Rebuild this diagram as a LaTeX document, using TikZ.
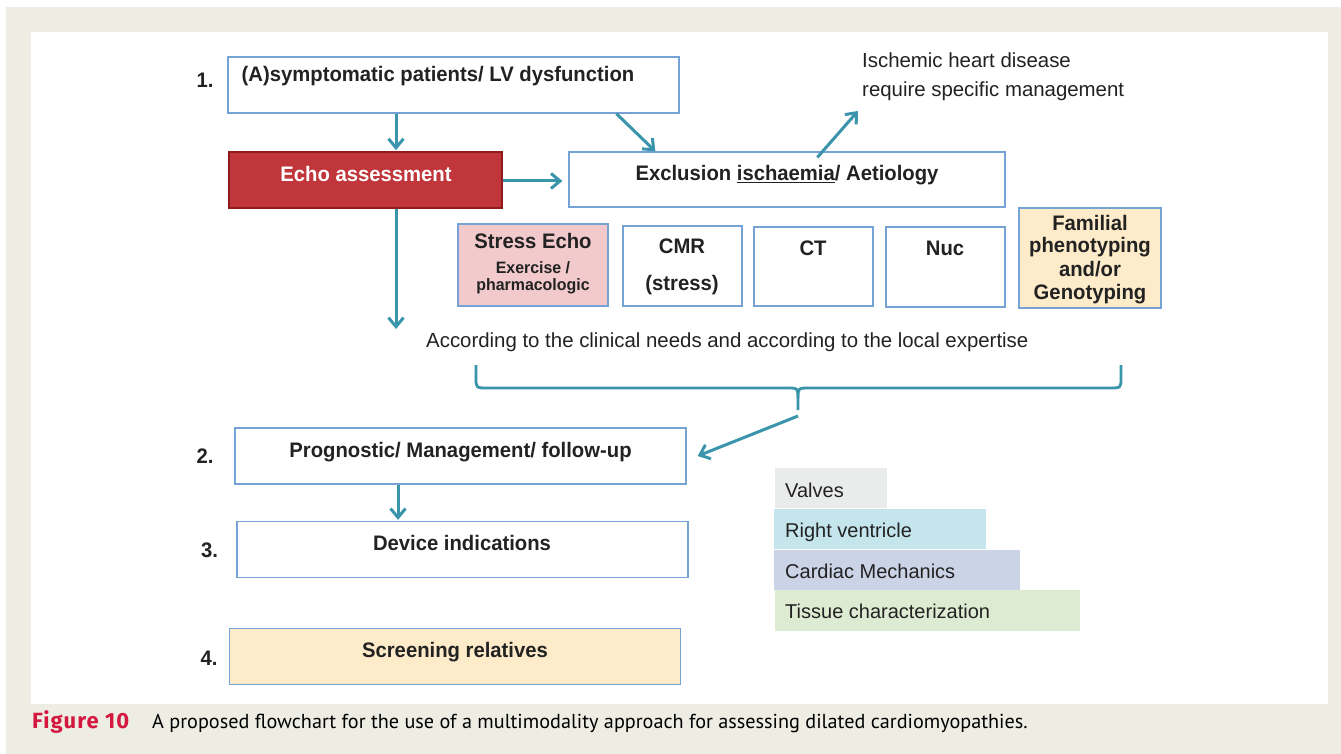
\documentclass[tikz,border=0pt]{standalone}
\usepackage{fontspec}
\setmainfont{Liberation Sans}
\newfontfamily\condfont{Liberation Sans}[FakeStretch=0.965]
\newfontfamily\capfont{PT Sans}
\newfontfamily\capboldfont{Fira Sans}
\usetikzlibrary{arrows.meta,calc}
\definecolor{bgbeige}{HTML}{EEEDE3}
\definecolor{boxblue}{HTML}{76A2D6}
\definecolor{arrteal}{HTML}{3A95AC}
\definecolor{echored}{HTML}{C1363A}
\definecolor{echoborder}{HTML}{8E1B1E}
\definecolor{pinkfill}{HTML}{F2CACB}
\definecolor{creamfill}{HTML}{FEEBC9}
\definecolor{valvesfill}{HTML}{EAECEB}
\definecolor{rvfill}{HTML}{C4E5EC}
\definecolor{mechfill}{HTML}{CBD3E6}
\definecolor{tissuefill}{HTML}{DEEBD3}
\definecolor{capred}{HTML}{D4173F}
\definecolor{txtgray}{HTML}{222222}
\begin{document}
\begin{tikzpicture}[x=1pt,y=-1pt,
  bx/.style={draw=boxblue, line width=1.3pt, fill=white, rectangle, inner sep=0pt},
  lg/.style={rectangle, inner sep=0pt, draw=none},
  arr/.style={draw=arrteal, line width=3pt, -{Straight Barb[length=9pt,width=15pt]}},
  bt/.style={anchor=base, inner sep=0pt, font=\condfont\fontsize{21}{24}\selectfont\bfseries, text=txtgray},
  rt/.style={anchor=base west, inner sep=0pt, font=\fontsize{20.4}{24}\selectfont, text=txtgray},
  nt/.style={anchor=base, inner sep=0pt, font=\condfont\fontsize{21}{24}\selectfont\bfseries, text=txtgray},
]
\useasboundingbox (0,0) rectangle (1341,754);
\fill[white] (0,0) rectangle (1341,754);
\fill[bgbeige] (6,7) rectangle (1341,754);
\fill[white] (31,32) rectangle (1328,704);

% main boxes
\node[bx, minimum width=451pt, minimum height=56pt] (b1) at (453.5,85) {};
\node[rectangle, draw=echoborder, line width=1.8pt, fill=echored, minimum width=273pt, minimum height=56pt, inner sep=0pt] (echo) at (365.5,180) {};
\node[bx, minimum width=436pt, minimum height=55pt] (excl) at (787,179.5) {};
\node[bx, minimum width=451pt, minimum height=56pt] (b2) at (460.5,456) {};
\node[bx, minimum width=451pt, minimum height=56pt] (b3) at (462.5,549.5) {};
\node[bx, fill=creamfill, minimum width=451pt, minimum height=56pt] (b4) at (455,656.5) {};

% modality boxes
\node[bx, fill=pinkfill, minimum width=150pt, minimum height=82pt] (se) at (533,265) {};
\node[bx, minimum width=119pt, minimum height=80pt] (cmr) at (682.5,266) {};
\node[bx, minimum width=119pt, minimum height=79pt] (ct) at (813.5,266.5) {};
\node[bx, minimum width=119pt, minimum height=80pt] (nuc) at (945.5,267) {};
\node[bx, fill=creamfill, minimum width=142pt, minimum height=100pt] (fam) at (1090,258) {};

% texts
\node[nt] (n1) at (205,88) {1.};
\node[nt] (n2) at (205,463) {2.};
\node[nt] (n3) at (209.5,557) {3.};
\node[nt] (n4) at (209,665) {4.};
\node[bt] (t1) at (438,82) {(A)symptomatic patients/ LV dysfunction};
\node[bt, text=white] (techo) at (366,182) {Echo assessment};
\node[bt] (texcl) at (787,181) {Exclusion \underline{ischaemia}/ Aetiology};
\node[bt] (t2) at (460.5,457) {Prognostic/ Management/ follow-up};
\node[bt] (t3) at (462,550) {Device indications};
\node[bt] (t4) at (455,657) {Screening relatives};

\node[rt] (ihd) at (862,68) {Ischemic heart disease};
\node[rt] (ihd2) at (862,97) {require specific management};

\node[bt] (tse) at (533,248) {Stress Echo};
\node[bt, font=\condfont\fontsize{16.5}{19}\selectfont\bfseries] (tse2) at (533,273) {Exercise /};
\node[bt, font=\condfont\fontsize{16.5}{19}\selectfont\bfseries] (tse3) at (533,290) {pharmacologic};
\node[bt] (tcmr) at (682,254) {CMR};
\node[bt] (tcmr2) at (682,290) {(stress)};
\node[bt] (tct) at (813,255) {CT};
\node[bt] (tnuc) at (945,255) {Nuc};
\node[bt] (tf1) at (1090,230) {Familial};
\node[bt] (tf2) at (1090,252.5) {phenotyping};
\node[bt] (tf3) at (1090,276) {and/or};
\node[bt] (tf4) at (1090,299) {Genotyping};

\node[rt] (acc) at (426,347) {According to the clinical needs and according to the local expertise};

% legend
\node[lg, fill=valvesfill, minimum width=112pt, minimum height=40pt] (lv) at (831,488) {};
\node[lg, fill=rvfill, minimum width=212pt, minimum height=40pt] (lrv) at (880,529) {};
\node[lg, fill=mechfill, minimum width=246pt, minimum height=40pt] (lm) at (897,570) {};
\node[lg, fill=tissuefill, minimum width=305pt, minimum height=41pt] (lt) at (927.5,610.5) {};
\node[rt, font=\fontsize{20}{24}\selectfont] at (785,497) {Valves};
\node[rt, font=\fontsize{20}{24}\selectfont] at (785,537) {Right ventricle};
\node[rt, font=\fontsize{20}{24}\selectfont] at (785,578) {Cardiac Mechanics};
\node[rt, font=\fontsize{20}{24}\selectfont] at (785,618) {Tissue characterization};

% connectors
\coordinate (xa) at (396,0);
\coordinate (xb) at (398,0);
\draw[arr] (b1.south -| xa) -- ($(echo.north -| xa)+(0,-1)$);
\draw[arr] ($(b1.south west)+(389,0)$) -- ($(excl.north west)+(87,0)$);
\draw[arr] (echo.east |- 0,181) -- ($(excl.west |- 0,181)+(-6,0)$);
\coordinate (echoend) at (396,329);
\draw[arr] (echo.south -| xa) -- (echoend);
\draw[arr] ($(excl.north west)+(249,6)$) -- ($(ihd.base west)+(-4,43)$);
\coordinate (brl) at (476,365);
\coordinate (brr) at (1121,365);
\coordinate (brtip) at (798,410);
\draw[arrteal, line width=2.8pt, line join=round]
  (brl) -- (476,378) .. controls (476,388) .. (488,388) -- (786,388)
  .. controls (798,388) .. (798,398) -- (brtip);
\draw[arrteal, line width=2.8pt, line join=round]
  (brr) -- (1121,378) .. controls (1121,388) .. (1109,388) -- (810,388)
  .. controls (798,388) .. (798,398);
\coordinate (brstart) at (798,416);
\draw[arr] (brstart) -- ($(b2.east)+(11,0)$);
\draw[arr] (b2.south -| xb) -- ($(b3.north -| xb)+(0,-1)$);

% caption
\node[anchor=base west, inner sep=0pt, font=\capboldfont\fontsize{22}{24}\selectfont\bfseries\addfontfeature{LetterSpace=5}, text=capred] (figl) at (32,728) {Figure 10};
\node[anchor=base west, inner sep=0pt, font=\capfont\fontsize{20.2}{24}\selectfont, text=black] (cap) at (152,728) {A proposed flowchart for the use of a multimodality approach for assessing dilated cardiomyopathies.};
\end{tikzpicture}
\end{document}
